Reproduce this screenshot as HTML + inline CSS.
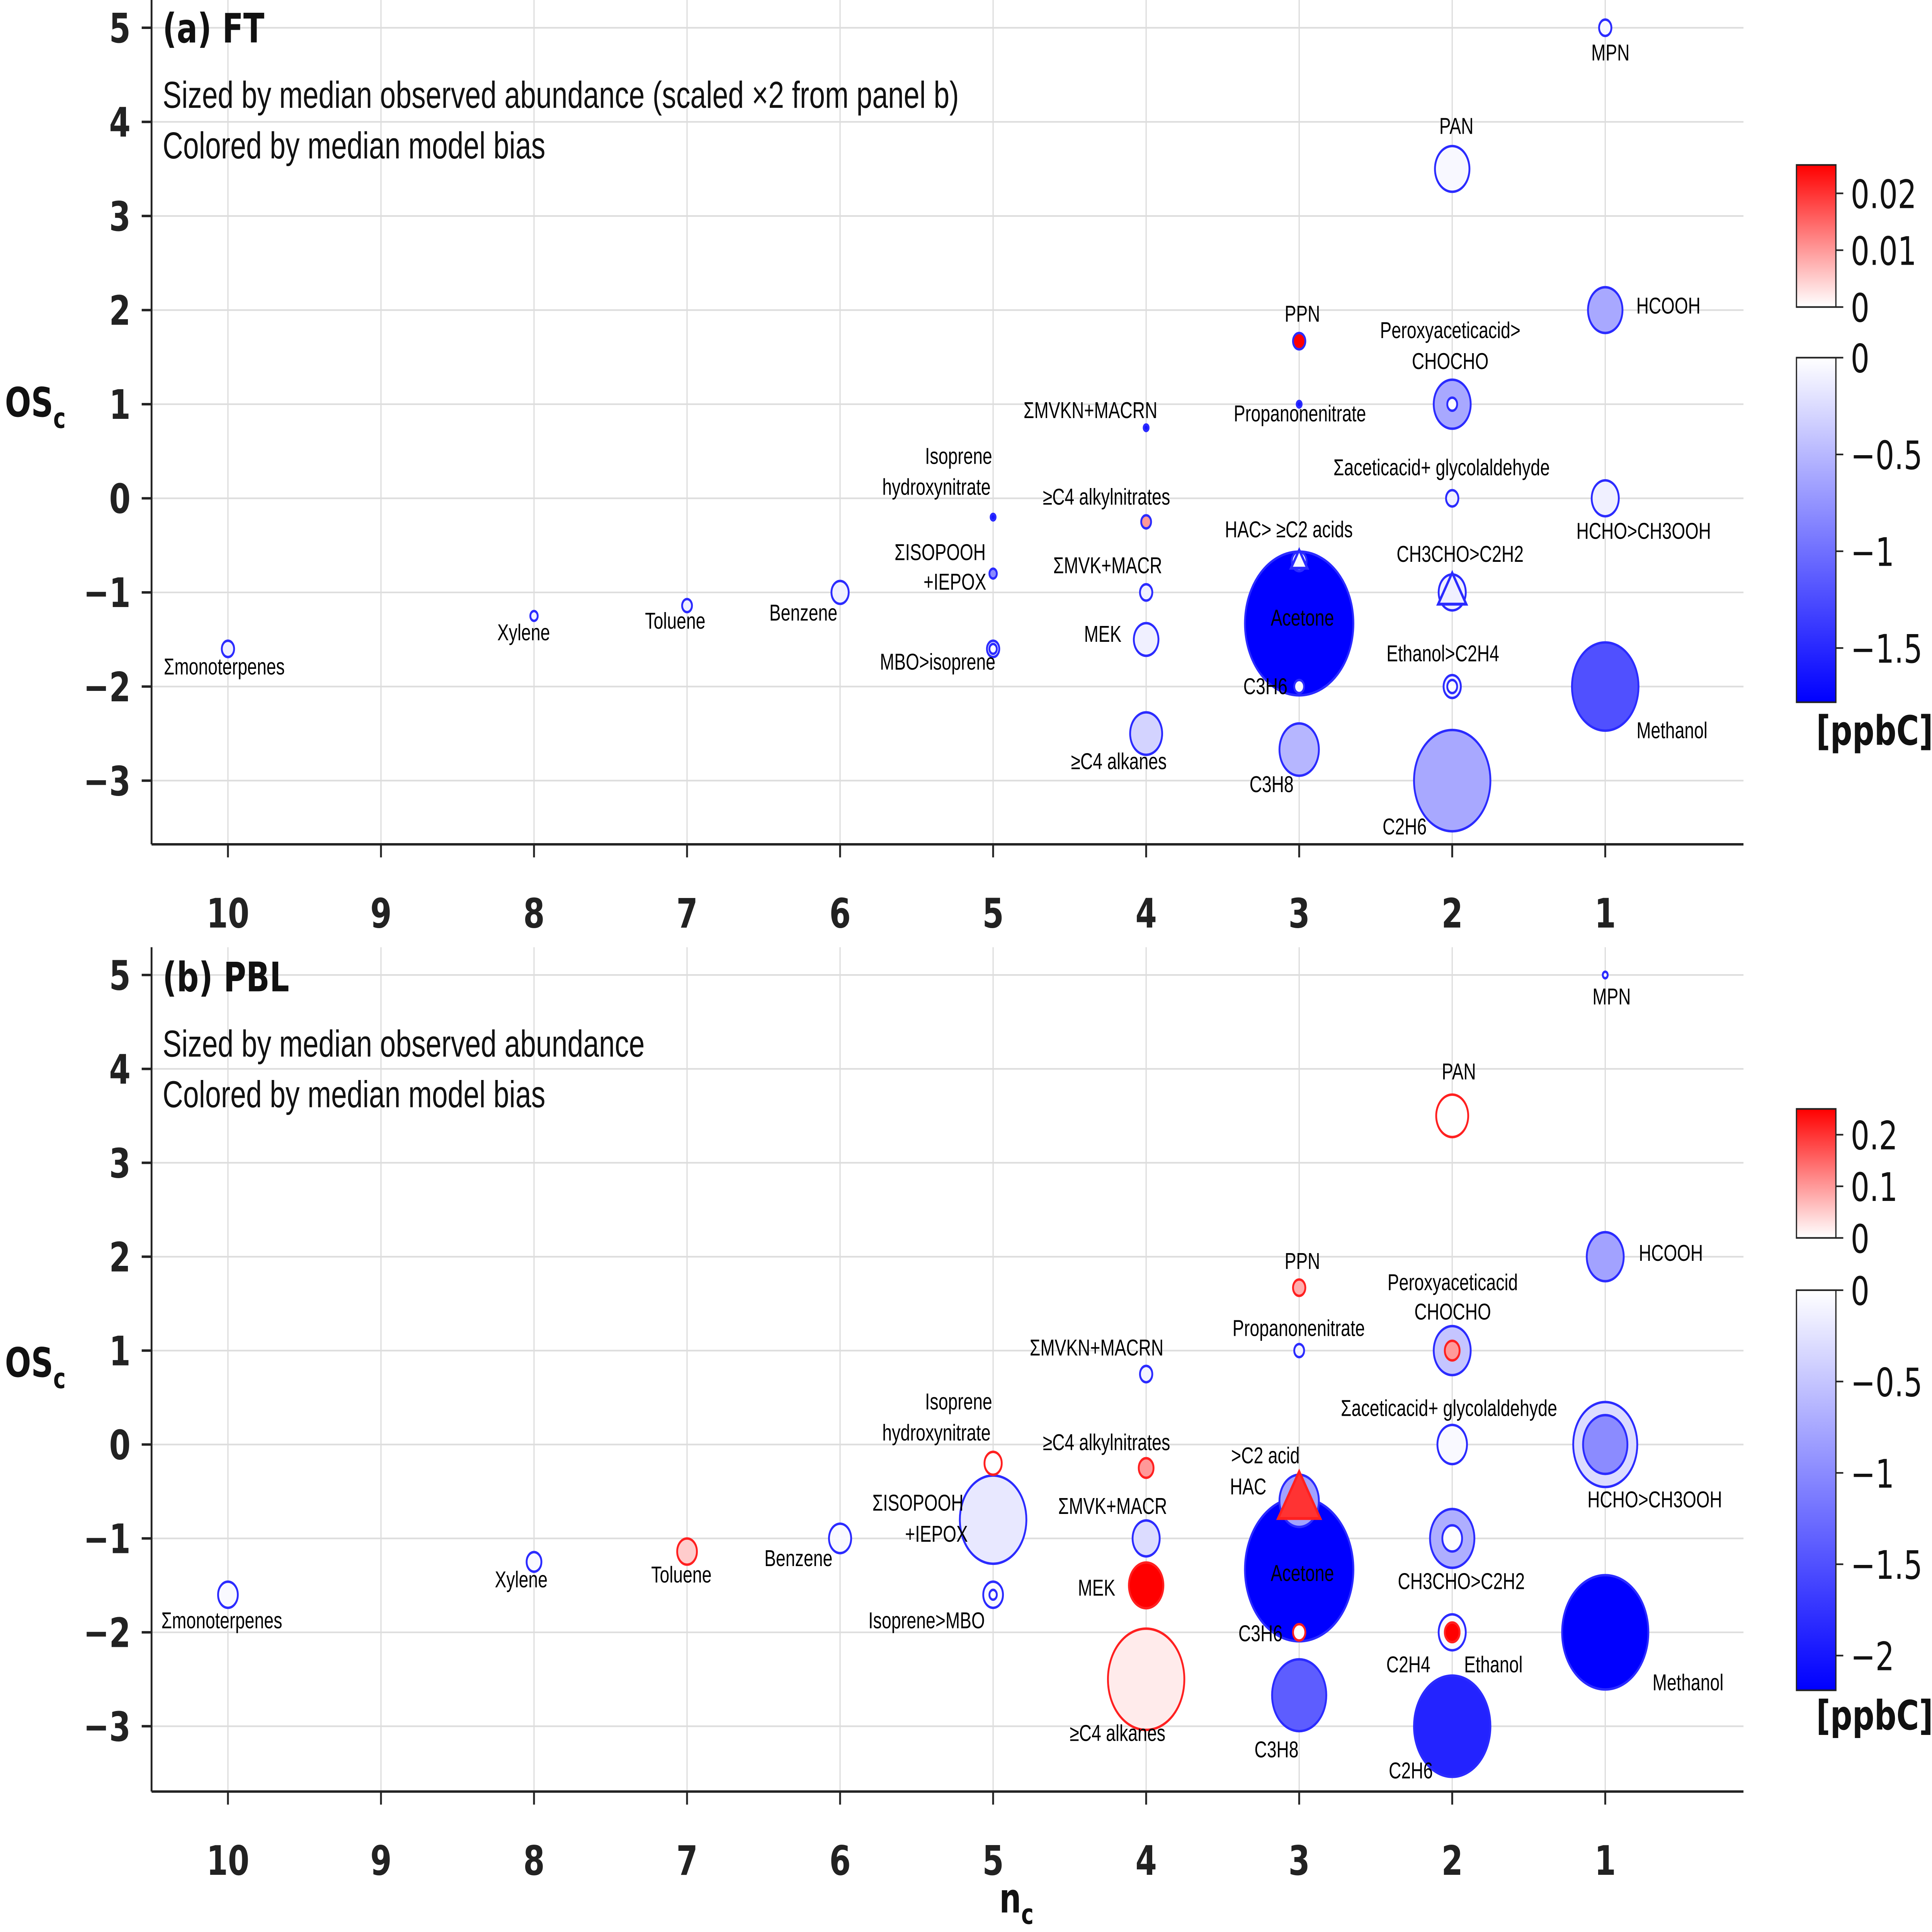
<!DOCTYPE html>
<html><head><meta charset="utf-8"><style>
html,body{margin:0;padding:0;background:#fff;overflow:hidden;width:100vw;height:100vh}
svg{display:block;width:100vw;height:100vh}
.tk{font-family:"DejaVu Sans","Liberation Sans",sans-serif;font-weight:bold;font-size:25px;fill:#222}
.lb{font-family:"Liberation Sans","DejaVu Sans",sans-serif;font-size:14px;fill:#000}
.an{font-family:"Liberation Sans","DejaVu Sans",sans-serif;font-size:23px;fill:#111}
.tt{font-family:"DejaVu Sans","Liberation Sans",sans-serif;font-weight:bold;font-size:25px;fill:#111}
.cb{font-family:"DejaVu Sans","Liberation Sans",sans-serif;font-size:24px;fill:#111}
</style></head><body>
<svg id="fig" viewBox="0 0 1568 1183" preserveAspectRatio="none" xmlns="http://www.w3.org/2000/svg">
<defs>
<linearGradient id="gra" x1="0" y1="1" x2="0" y2="0"><stop offset="0" stop-color="#fff"/><stop offset="1" stop-color="#f00"/></linearGradient>
<linearGradient id="gba" x1="0" y1="0" x2="0" y2="1"><stop offset="0" stop-color="#fff"/><stop offset="1" stop-color="#00f"/></linearGradient>
</defs>
<g id="layer"></g>
</svg>
<script>
// ---------- Panel (a) FT data ----------
const namesA=["MPN","PAN","HCOOH","PPN","Peroxyaceticacid>CHOCHO","Propanonenitrate","MVKN+MACRN","acetic+glycolaldehyde","HCHO>CH3OOH","Isoprene hydroxynitrate","C4 alkylnitrates","HAC>C2 acids","MVK+MACR","CH3CHO>C2H2","ISOPOOH+IEPOX","Acetone","Benzene","Toluene","Xylene","monoterpenes","MBO>isoprene","MEK","C3H6","Ethanol>C2H4","Methanol","C4 alkanes","C3H8","C2H6"];
const ncA=[1,2,1,3,2,3,4,2,1,5,4,3,4,2,5,3,6,7,8,10,5,4,3,2,1,4,3,2];
const oscA=[5,3.5,2,1.67,1,1,0.75,0,0,-0.2,-0.25,-0.67,-1,-1,-0.8,-1.33,-1,-1.14,-1.25,-1.6,-1.6,-1.5,-2,-2,-2,-2.5,-2.67,-3];
const sizeA=[5,14,14,5,15,2,2,5,11,2,4,6,5,11,3,44,7,4,3,5,5,10,4,7,27,13,16,31];
const biasA=[-0.05,-0.05,-0.6,0.025,-0.6,-1.6,-1.6,-0.1,-0.1,-1.6,0.01,-0.1,-0.1,-0.1,-0.8,-1.75,-0.1,-0.1,-0.1,-0.1,-0.2,-0.1,-0.05,-0.1,-1.2,-0.3,-0.5,-0.6];
// ---------- Panel (b) PBL data ----------
const namesB=["MPN","PAN","HCOOH","PPN","Propanonenitrate","Peroxyaceticacid","MVKN+MACRN","acetic+glycolaldehyde","HCHO>CH3OOH","Isoprene hydroxynitrate","C4 alkylnitrates",">C2 acid","ISOPOOH+IEPOX","MVK+MACR","CH3CHO>C2H2","Benzene","Toluene","Xylene","monoterpenes","Acetone","MEK","Isoprene>MBO","C3H6","Ethanol","Methanol","C4 alkanes","C3H8","C2H6"];
const ncB=[1,2,1,3,3,2,4,2,1,5,4,3,5,4,2,6,7,8,10,3,4,5,3,2,1,4,3,2];
const oscB=[5,3.5,2,1.67,1,1,0.75,0,0,-0.2,-0.25,-0.6,-0.8,-1,-1,-1,-1.14,-1.25,-1.6,-1.33,-1.5,-1.6,-2,-2,-2,-2.5,-2.67,-3];
const sizeB=[2,13,15,5,4,15,5,12,18,7,6,16,27,11,18,9,8,6,8,44,14,8,5,11,35,31,22,31];
const biasB=[-0.1,0.0,-0.8,0.08,-0.1,-0.5,-0.1,-0.05,-1.0,0.0,0.1,-0.8,-0.2,-0.3,-0.7,-0.05,0.05,-0.05,-0.05,-2.2,0.25,-0.05,0.0,-0.05,-2.2,0.02,-1.4,-1.9];
const edgeB=["b","r","b","r","b","b","b","b","b","r","r","b","b","b","b","b","r","b","b","b","r","b","r","b","b","r","b","b"];
const innerA=[{p:4,r:4,bias:-0.02},{p:20,r:3,bias:-0.02},{p:23,r:4,bias:-0.02}];
const innerB=[{p:5,r:6,bias:0.1,e:"r"},{p:14,r:8,bias:-0.02,e:"b"},{p:21,r:3,bias:-0.02,e:"b"},{p:23,r:6,bias:0.25,e:"r"},{p:8,r:26,bias:-0.3,e:"b",outer:true}];
const triA=[{p:11,s:7,bias:-0.05},{p:13,s:12,bias:-0.1}];
const triB=[{p:11,s:18,bias:0.2,e:"r"}];
const xTicks=[10,9,8,7,6,5,4,3,2,1];
const yTicks=[5,4,3,2,1,0,-1,-2,-3];

const NS="http://www.w3.org/2000/svg";
const L=document.getElementById("layer");
function mk(tag,at,parent){const e=document.createElementNS(NS,tag);for(const k in at)e.setAttribute(k,at[k]);(parent||L).appendChild(e);return e;}
function txt(s,x,y,cls,anchor,fill){const t=mk("text",{x:x,y:y,class:cls,"text-anchor":anchor||"start"});if(fill)t.setAttribute("fill",fill);t.textContent=s;return t;}
function col(b,maxR,minB){if(b>=0){const t=Math.min(b/maxR,1);const v=Math.round(255*(1-t));return `rgb(255,${v},${v})`;}const t=Math.min(b/minB,1);const v=Math.round(255*(1-t));return `rgb(${v},${v},255)`;}
const EB="#2b2bff",ER="#ff2020";

function panel(top,yFive,yMinus3,bottom,names,nc,osc,size,bias,edge,inner,tri,maxR,minB,tag){
  const x=v=>185+(10-v)*124.2;
  const y=v=>yFive+(5-v)*(yMinus3-yFive)/8;
  const g=mk("g",{});
  
  
  xTicks.forEach(v=>{const l=mk("line",{x1:x(v),x2:x(v),y1:top,y2:bottom,stroke:"#ddd","stroke-width":1},g);
    
    
    mk("line",{x1:x(v),x2:x(v),y1:bottom,y2:bottom+8,stroke:"#222","stroke-width":1.5},g);
    const t=txt(String(v),x(v),bottom+51,"tk","middle");
    
    });
  yTicks.forEach(v=>{const l=mk("line",{x1:123,x2:1415,y1:y(v),y2:y(v),stroke:"#ddd","stroke-width":1},g);
    
    
    mk("line",{x1:115,x2:123,y1:y(v),y2:y(v),stroke:"#222","stroke-width":1.5},g);
    const t=txt(v<0?"\u2212"+(-v):String(v),106,y(v)+9,"tk","end");
    
    });
  mk("line",{x1:123,x2:123,y1:top,y2:bottom,stroke:"#222","stroke-width":1.5},g);
  mk("line",{x1:123,x2:1415,y1:bottom,y2:bottom,stroke:"#222","stroke-width":1.5},g);
  inner.filter(o=>o.outer).forEach(o=>{const c=mk("circle",{cx:x(nc[o.p]),cy:y(osc[o.p]),r:o.r,fill:col(o.bias,maxR,minB),stroke:EB,"stroke-width":1.5},g);
    
    });
  const order=names.map((n,i)=>i).sort((a,b)=>size[b]-size[a]);
  order.forEach(i=>{const c=mk("circle",{cx:x(nc[i]),cy:y(osc[i]),r:size[i],fill:col(bias[i],maxR,minB),stroke:(edge&&edge[i]==="r")?ER:EB,"stroke-width":1.5},g);
    
    });
  inner.filter(o=>!o.outer).forEach(o=>{const c=mk("circle",{cx:x(nc[o.p]),cy:y(osc[o.p]),r:o.r,fill:col(o.bias,maxR,minB),stroke:o.e==="r"?ER:EB,"stroke-width":1.5},g);
    
    });
  tri.forEach(o=>{const cx=x(nc[o.p]),cy=y(osc[o.p]),s=o.s;
    const p=mk("polygon",{points:`${cx},${cy-s} ${cx-s*0.95},${cy+s*0.6} ${cx+s*0.95},${cy+s*0.6}`,fill:col(o.bias,maxR,minB),stroke:o.e==="r"?ER:EB,"stroke-width":1.8},g);
    
    });
  return g;
}

panel(0,17,478,517,namesA,ncA,oscA,sizeA,biasA,null,innerA,triA,0.025,-1.75,"ft");
panel(580,597,1057,1097,namesB,ncB,oscB,sizeB,biasB,edgeB,innerB,triB,0.25,-2.2,"pbl");

function ann(s,x,y,cls,name,anchor,fill){const t=txt(s,x,y,cls,anchor,fill);return t;}
ann("(a) FT",132,26,"tt","panel-a-title");
ann("Sized by median observed abundance (scaled \u00d72 from panel b)",132,66,"an","panel-a-subtitle");
ann("Colored by median model bias",132,97,"an","panel-a-subtitle-2");
ann("(b) PBL",132,607,"tt","panel-b-title");
ann("Sized by median observed abundance",132,647,"an","panel-b-subtitle");
ann("Colored by median model bias",132,678,"an","panel-b-subtitle-2");
[[255,"y-axis-title-a"],[843,"y-axis-title-b"]].forEach(([yy,n])=>{const t=mk("text",{x:4,y:yy,class:"tt"});t.innerHTML='OS<tspan font-size="17" dy="7">c</tspan>';});
{const t=mk("text",{x:811,y:1171,class:"tt"});t.innerHTML='n<tspan font-size="17" dy="7">c</tspan>';}

const labA=[["MPN",1307,37,"middle"],["PAN",1182,82,"middle"],["HCOOH",1328,192],["PPN",1057,197,"middle"],["Peroxyaceticacid>",1177,207,"middle"],["CHOCHO",1177,226,"middle"],["ΣMVKN+MACRN",885,256,"middle"],["Propanonenitrate",1055,258,"middle"],["Σaceticacid+ glycolaldehyde",1170,291,"middle"],["Isoprene",778,284,"middle"],["hydroxynitrate",760,303,"middle"],["≥C4 alkylnitrates",898,309,"middle"],["HAC> ≥C2 acids",1046,329,"middle"],["HCHO>CH3OOH",1334,330,"middle"],["ΣISOPOOH",763,343,"middle"],["ΣMVK+MACR",899,351,"middle"],["CH3CHO>C2H2",1185,344,"middle"],["+IEPOX",775,361,"middle"],["Acetone",1057,383,"middle"],["Benzene",652,380,"middle"],["Toluene",548,385,"middle"],["Xylene",425,392,"middle"],["MEK",895,393,"middle"],["Σmonoterpenes",182,413,"middle"],["MBO>isoprene",761,410,"middle"],["Ethanol>C2H4",1171,405,"middle"],["C3H6",1027,425,"middle"],["Methanol",1357,452,"middle"],["≥C4 alkanes",908,471,"middle"],["C3H8",1032,485,"middle"],["C2H6",1140,511,"middle"]];
const labB=[["MPN",1308,615,"middle"],["PAN",1184,661,"middle"],["HCOOH",1330,772],["PPN",1057,777,"middle"],["Peroxyaceticacid",1179,790,"middle","#1515ff"],["CHOCHO",1179,808,"middle","#ff1515"],["Propanonenitrate",1054,818,"middle"],["ΣMVKN+MACRN",890,830,"middle"],["Σaceticacid+ glycolaldehyde",1176,867,"middle"],["Isoprene",778,863,"middle"],["hydroxynitrate",760,882,"middle"],["≥C4 alkylnitrates",898,888,"middle"],[">C2 acid",1027,896,"middle","#1515ff"],["HAC",1013,915,"middle","#ff1515"],["HCHO>CH3OOH",1343,923,"middle"],["ΣISOPOOH",745,925,"middle"],["ΣMVK+MACR",903,927,"middle"],["+IEPOX",760,944,"middle"],["Benzene",648,959,"middle"],["Toluene",553,969,"middle"],["Acetone",1057,968,"middle"],["CH3CHO>C2H2",1186,973,"middle"],["Xylene",423,972,"middle"],["MEK",890,977,"middle"],["Σmonoterpenes",180,997,"middle"],["Isoprene>MBO",752,997,"middle"],["C3H6",1023,1005,"middle"],["C2H4",1143,1024,"middle","#ff1515"],["Ethanol",1212,1024,"middle","#1515ff"],["Methanol",1370,1035,"middle"],["≥C4 alkanes",907,1066,"middle"],["C3H8",1036,1076,"middle"],["C2H6",1145,1089,"middle"]];
labA.concat(labB).forEach(a=>{const t=txt(a[0],a[1],a[2],"lb",a[3]||"start",a[4]);
  
  });

function cbar(x,rt,rb,bt,bb,redTicks,redVals,redMax,blueTicks,blueMin,unitY,tag){
  const r=mk("rect",{x:x,y:rt,width:32,height:rb-rt,fill:"url(#gra)",stroke:"#222","stroke-width":1});
  
  
  const b=mk("rect",{x:x,y:bt,width:32,height:bb-bt,fill:"url(#gba)",stroke:"#222","stroke-width":1});
  
  
  redTicks.forEach((lab,i)=>{const yy=rb-(redVals[i]/redMax)*(rb-rt);
    mk("line",{x1:x+32,x2:x+38,y1:yy,y2:yy,stroke:"#222"});
    const t=txt(lab,x+44,yy+9,"cb");});
  blueTicks.forEach(v=>{const yy=bt+(v/blueMin)*(bb-bt);
    mk("line",{x1:x+32,x2:x+38,y1:yy,y2:yy,stroke:"#222"});
    const t=txt(v===0?"0":"\u2212"+(-v),x+44,yy+9,"cb");});
  const u=txt("[ppbC]",x+16,unitY,"tt","start");u.setAttribute("font-size","18");
  
  
}
cbar(1458,101,188,219,430,["0.02","0.01","0"],[0.02,0.01,0],0.025,[0,-0.5,-1,-1.5],-1.78,456,"a");
cbar(1458,679,758,790,1035,["0.2","0.1","0"],[0.2,0.1,0],0.25,[0,-0.5,-1,-1.5,-2],-2.19,1059,"b");
</script>
</body></html>
